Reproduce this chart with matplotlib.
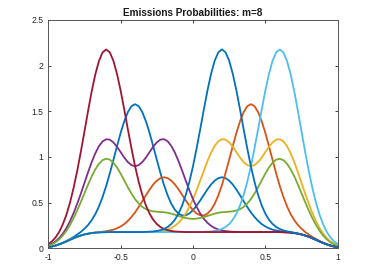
import numpy as np
import matplotlib
matplotlib.use("Agg")
import matplotlib.pyplot as plt

x = np.linspace(-1, 1, 81)

state1 = [0.012, 0.020, 0.030, 0.044, 0.061, 0.079, 0.101, 0.124, 0.151, 0.179,
          0.214, 0.255, 0.308, 0.374, 0.458, 0.561, 0.681, 0.819, 0.966, 1.117,
          1.263, 1.390, 1.491, 1.556, 1.578, 1.556, 1.491, 1.390, 1.264, 1.119,
          0.970, 0.825, 0.692, 0.580, 0.488, 0.422, 0.380, 0.360, 0.362, 0.382,
          0.418, 0.467, 0.524, 0.585, 0.646, 0.699, 0.741, 0.768, 0.778, 0.768,
          0.741, 0.698, 0.643, 0.581, 0.516, 0.453, 0.394, 0.343, 0.300, 0.265,
          0.239, 0.219, 0.204, 0.195, 0.187, 0.182, 0.178, 0.173, 0.168, 0.160,
          0.152, 0.140, 0.127, 0.110, 0.093, 0.075, 0.058, 0.043, 0.030, 0.020,
          0.012]
state2 = [0.012, 0.020, 0.030, 0.043, 0.058, 0.075, 0.093, 0.110, 0.127, 0.140,
          0.152, 0.160, 0.168, 0.173, 0.178, 0.182, 0.187, 0.195, 0.204, 0.219,
          0.239, 0.265, 0.300, 0.343, 0.394, 0.453, 0.516, 0.581, 0.643, 0.698,
          0.741, 0.768, 0.778, 0.768, 0.741, 0.699, 0.646, 0.585, 0.524, 0.467,
          0.418, 0.382, 0.362, 0.360, 0.380, 0.422, 0.488, 0.580, 0.692, 0.825,
          0.970, 1.119, 1.264, 1.390, 1.491, 1.556, 1.578, 1.556, 1.491, 1.390,
          1.263, 1.117, 0.966, 0.819, 0.681, 0.561, 0.458, 0.374, 0.308, 0.255,
          0.214, 0.179, 0.151, 0.124, 0.101, 0.079, 0.061, 0.044, 0.030, 0.020,
          0.012]
state3 = [0.012, 0.020, 0.030, 0.043, 0.058, 0.075, 0.093, 0.110, 0.127, 0.140,
          0.152, 0.160, 0.167, 0.171, 0.174, 0.176, 0.177, 0.178, 0.178, 0.178,
          0.178, 0.178, 0.178, 0.178, 0.178, 0.178, 0.178, 0.179, 0.180, 0.181,
          0.184, 0.188, 0.195, 0.206, 0.222, 0.246, 0.279, 0.323, 0.381, 0.453,
          0.538, 0.636, 0.741, 0.850, 0.955, 1.047, 1.122, 1.172, 1.195, 1.190,
          1.160, 1.112, 1.054, 0.994, 0.944, 0.911, 0.898, 0.911, 0.944, 0.994,
          1.054, 1.112, 1.160, 1.190, 1.194, 1.170, 1.118, 1.040, 0.944, 0.832,
          0.715, 0.598, 0.487, 0.385, 0.296, 0.220, 0.159, 0.111, 0.074, 0.048,
          0.029]
state4 = [0.029, 0.048, 0.074, 0.111, 0.159, 0.220, 0.296, 0.385, 0.487, 0.598,
          0.715, 0.832, 0.944, 1.040, 1.118, 1.170, 1.194, 1.190, 1.160, 1.112,
          1.054, 0.994, 0.944, 0.911, 0.898, 0.911, 0.944, 0.994, 1.054, 1.112,
          1.160, 1.190, 1.195, 1.172, 1.122, 1.047, 0.955, 0.850, 0.741, 0.636,
          0.538, 0.453, 0.381, 0.323, 0.279, 0.246, 0.222, 0.206, 0.195, 0.188,
          0.184, 0.181, 0.180, 0.179, 0.178, 0.178, 0.178, 0.178, 0.178, 0.178,
          0.178, 0.178, 0.178, 0.178, 0.177, 0.176, 0.174, 0.171, 0.167, 0.160,
          0.152, 0.140, 0.127, 0.110, 0.093, 0.075, 0.058, 0.043, 0.030, 0.020,
          0.012]
state5 = [0.026, 0.042, 0.065, 0.097, 0.139, 0.191, 0.255, 0.330, 0.415, 0.506,
          0.602, 0.697, 0.787, 0.864, 0.925, 0.965, 0.980, 0.971, 0.937, 0.885,
          0.818, 0.744, 0.669, 0.599, 0.538, 0.490, 0.453, 0.428, 0.414, 0.405,
          0.401, 0.397, 0.395, 0.389, 0.380, 0.367, 0.355, 0.342, 0.332, 0.325,
          0.322, 0.325, 0.332, 0.342, 0.355, 0.367, 0.380, 0.389, 0.395, 0.397,
          0.401, 0.405, 0.414, 0.428, 0.453, 0.490, 0.538, 0.599, 0.669, 0.744,
          0.818, 0.885, 0.937, 0.971, 0.980, 0.965, 0.925, 0.864, 0.787, 0.697,
          0.602, 0.506, 0.415, 0.330, 0.255, 0.191, 0.139, 0.097, 0.065, 0.042,
          0.026]
state6 = [0.012, 0.020, 0.030, 0.043, 0.058, 0.075, 0.093, 0.110, 0.127, 0.140,
          0.152, 0.160, 0.167, 0.171, 0.174, 0.176, 0.177, 0.178, 0.178, 0.178,
          0.178, 0.178, 0.178, 0.178, 0.178, 0.178, 0.178, 0.178, 0.178, 0.178,
          0.178, 0.178, 0.178, 0.178, 0.178, 0.178, 0.178, 0.178, 0.178, 0.178,
          0.178, 0.178, 0.178, 0.180, 0.182, 0.184, 0.190, 0.198, 0.212, 0.233,
          0.266, 0.313, 0.380, 0.468, 0.584, 0.728, 0.898, 1.094, 1.304, 1.520,
          1.728, 1.910, 2.054, 2.146, 2.177, 2.144, 2.050, 1.903, 1.717, 1.502,
          1.278, 1.056, 0.847, 0.660, 0.499, 0.365, 0.260, 0.178, 0.118, 0.075,
          0.046]
state7 = [0.046, 0.075, 0.118, 0.178, 0.260, 0.365, 0.499, 0.660, 0.847, 1.056,
          1.278, 1.502, 1.717, 1.903, 2.050, 2.144, 2.177, 2.146, 2.054, 1.910,
          1.728, 1.520, 1.304, 1.094, 0.898, 0.728, 0.584, 0.468, 0.380, 0.313,
          0.266, 0.233, 0.212, 0.198, 0.190, 0.184, 0.182, 0.180, 0.178, 0.178,
          0.178, 0.178, 0.178, 0.178, 0.178, 0.178, 0.178, 0.178, 0.178, 0.178,
          0.178, 0.178, 0.178, 0.178, 0.178, 0.178, 0.178, 0.178, 0.178, 0.178,
          0.178, 0.178, 0.178, 0.178, 0.177, 0.176, 0.174, 0.171, 0.167, 0.160,
          0.152, 0.140, 0.127, 0.110, 0.093, 0.075, 0.058, 0.043, 0.030, 0.020,
          0.012]
state8 = [0.012, 0.020, 0.030, 0.043, 0.058, 0.075, 0.093, 0.110, 0.127, 0.140,
          0.152, 0.160, 0.167, 0.171, 0.174, 0.176, 0.177, 0.178, 0.178, 0.178,
          0.178, 0.178, 0.178, 0.178, 0.178, 0.178, 0.178, 0.180, 0.182, 0.184,
          0.190, 0.198, 0.212, 0.233, 0.266, 0.313, 0.380, 0.468, 0.584, 0.728,
          0.898, 1.094, 1.304, 1.520, 1.728, 1.910, 2.054, 2.146, 2.178, 2.146,
          2.054, 1.910, 1.728, 1.520, 1.304, 1.094, 0.898, 0.728, 0.584, 0.468,
          0.380, 0.313, 0.266, 0.233, 0.211, 0.196, 0.186, 0.177, 0.171, 0.162,
          0.152, 0.140, 0.127, 0.110, 0.093, 0.075, 0.058, 0.043, 0.030, 0.020,
          0.012]

states = [state1, state2, state3, state4, state5, state6, state7, state8]
# matlab default color order, 8th line wraps back to blue
colors = ['#0072BD', '#D95319', '#EDB120', '#7E2F8E', '#77AC30', '#4DBEEE', '#A2142F', '#0072BD']

xticks = [-1, -0.5, 0, 0.5, 1]
xtick_labels = ['-1', '-0.5', '0', '0.5', '1']
yticks = [0, 0.5, 1, 1.5, 2, 2.5]
ytick_labels = ['0', '0.5', '1', '1.5', '2', '2.5']

plt.rcParams['font.family'] = ['Liberation Sans', 'DejaVu Sans']

fig = plt.figure(figsize=(3.74, 2.80), dpi=100)
ax = fig.add_axes([0.129, 0.1132, 0.774, 0.8154])

for s, c in zip(states, colors):
    ax.plot(x, s, color=c, lw=1.3)

ax.set_xlim(-1, 1)
ax.set_ylim(0, 2.5)
ax.set_xticks(xticks)
ax.set_xticklabels(xtick_labels)
ax.set_yticks(yticks)
ax.set_yticklabels(ytick_labels)
ax.tick_params(direction='in', length=2.5, width=0.6, colors='#262626',
               labelsize=6.2, top=True, right=True, pad=3.5)
for sp in ax.spines.values():
    sp.set_color('#555555')
    sp.set_linewidth(0.7)

ax.set_title('Emissions Probabilities: m=8', fontsize=7.2, fontweight='bold',
             color='#1a1a1a', pad=3)

fig.savefig('out.png', dpi=100)
